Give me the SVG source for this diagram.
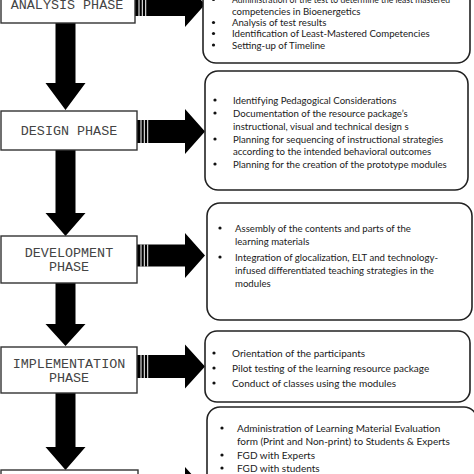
<svg xmlns="http://www.w3.org/2000/svg" width="474" height="474" viewBox="0 0 474 474">
<style>
.phase{fill:#fff;stroke:#333;stroke-width:1.4}
.ptxt{font-family:"Liberation Mono","Courier New",monospace;font-size:13.4px;fill:#444;text-anchor:middle}
.card{fill:#fff;stroke:#222;stroke-width:1.6}
.itxt{font-family:Lato,"Liberation Sans",sans-serif;font-size:9.65px;fill:#1a1a1a}
.big{font-size:10px}
.blk{fill:#000}
.gap{fill:#fff}
.dot{fill:#111}
</style>
<rect width="474" height="474" fill="#fff"/>
<g id="connectors">
  <polygon class="blk" points="55.5,23 75.5,23 75.5,83 85.5,83 65.5,110 45.5,83 55.5,83"/>
  <polygon class="blk" points="55.5,150 75.5,150 75.5,213 85.5,213 65.5,236 45.5,213 55.5,213"/>
  <polygon class="blk" points="55.5,283 75.5,283 75.5,324 85.5,324 65.5,346 45.5,324 55.5,324"/>
  <polygon class="blk" points="55.5,393 75.5,393 75.5,447 85.5,447 65.5,470 45.5,447 55.5,447"/>
  <g id="r-analysis">
    <polygon class="blk" points="135,-7 185,-7 185,-18 205,4.5 185,27 185,16 135,16"/>
    <rect class="gap" x="138.5" y="-7" width="1" height="23"/><rect class="gap" x="141.8" y="-7" width="1" height="23"/><rect class="gap" x="145.2" y="-7" width="1" height="23"/>
  </g>
  <g id="r-design">
    <polygon class="blk" points="137,120 185,120 185,109 205,131.5 185,154 185,143 137,143"/>
    <rect class="gap" x="140.5" y="120" width="1" height="23"/><rect class="gap" x="143.8" y="120" width="1" height="23"/><rect class="gap" x="147.2" y="120" width="1" height="23"/>
  </g>
  <g id="r-development">
    <polygon class="blk" points="137,244.5 185,244.5 185,233 205,255.5 185,278 185,266.5 137,266.5"/>
    <rect class="gap" x="140.5" y="244.5" width="1" height="22"/><rect class="gap" x="143.8" y="244.5" width="1" height="22"/><rect class="gap" x="147.2" y="244.5" width="1" height="22"/>
  </g>
  <g id="r-implementation">
    <polygon class="blk" points="137,355 185,355 185,344.5 205,366.5 185,388.5 185,378 137,378"/>
    <rect class="gap" x="140.5" y="355" width="1" height="23"/><rect class="gap" x="143.8" y="355" width="1" height="23"/><rect class="gap" x="147.2" y="355" width="1" height="23"/>
  </g>
  <g id="r-evaluation">
    <polygon class="blk" points="138,478 185,478 185,467 205,489 185,511 185,500 138,500"/>
  </g>
</g>
<g id="analysis-phase">
  <rect class="phase" x="1" y="-15" width="134" height="38"/>
  <text class="ptxt" x="67" y="8.5">ANALYSIS PHASE</text>
</g>
<g id="design-phase">
  <rect class="phase" x="1" y="111" width="136" height="39"/>
  <text class="ptxt" x="69" y="134.5">DESIGN PHASE</text>
</g>
<g id="development-phase">
  <rect class="phase" x="1" y="236" width="136" height="47"/>
  <text class="ptxt" x="69" y="256.5">DEVELOPMENT</text>
  <text class="ptxt" x="69" y="270.5">PHASE</text>
</g>
<g id="implementation-phase">
  <rect class="phase" x="1" y="347" width="136" height="46"/>
  <text class="ptxt" x="69" y="367.5">IMPLEMENTATION</text>
  <text class="ptxt" x="69" y="381.5">PHASE</text>
</g>
<g id="evaluation-phase">
  <rect class="phase" x="1" y="470" width="137" height="40"/>
</g>
<g id="analysis-tasks">
  <rect class="card" x="203" y="-40" width="267" height="103" rx="13"/>
  <circle class="dot" cx="213.5" cy="-0.5" r="1.6"/>
  <circle class="dot" cx="213.5" cy="22.5" r="1.6"/>
  <circle class="dot" cx="213.5" cy="33.5" r="1.6"/>
  <circle class="dot" cx="213.5" cy="45" r="1.6"/>
  <text class="itxt" x="232" y="3" textLength="218" lengthAdjust="spacingAndGlyphs">Administration of the test to determine the least mastered</text>
  <text class="itxt" x="232" y="14.5">competencies  in Bioenergetics</text>
  <text class="itxt" x="232" y="26">Analysis of test results</text>
  <text class="itxt" x="232" y="37">Identification of Least-Mastered Competencies</text>
  <text class="itxt" x="232" y="48.5">Setting-up of Timeline</text>
</g>
<g id="design-tasks">
  <rect class="card" x="205" y="71" width="263" height="119" rx="13"/>
  <circle class="dot" cx="215" cy="100" r="1.6"/>
  <circle class="dot" cx="215" cy="113" r="1.6"/>
  <circle class="dot" cx="215" cy="139" r="1.6"/>
  <circle class="dot" cx="215" cy="164" r="1.6"/>
  <text class="itxt" x="233" y="103.5">Identifying Pedagogical Considerations</text>
  <text class="itxt" x="233" y="116.5">Documentation of the resource package’s</text>
  <text class="itxt" x="233" y="130">instructional, visual and technical design s</text>
  <text class="itxt" x="233" y="142.5">Planning for sequencing of instructional strategies</text>
  <text class="itxt" x="233" y="154.5">according to the intended behavioral outcomes</text>
  <text class="itxt" x="233" y="167.5">Planning for the creation of the prototype modules</text>
</g>
<g id="development-tasks">
  <rect class="card" x="207" y="203" width="265" height="117" rx="13"/>
  <circle class="dot" cx="220" cy="228" r="1.6"/>
  <circle class="dot" cx="220" cy="257" r="1.6"/>
  <text class="itxt" x="235" y="231.5">Assembly of the contents and parts of the</text>
  <text class="itxt" x="235" y="245">learning materials</text>
  <text class="itxt" x="235" y="260.5">Integration of glocalization, ELT and technology-</text>
  <text class="itxt" x="235" y="273.5">infused differentiated teaching strategies in the</text>
  <text class="itxt" x="235" y="287">modules</text>
</g>
<g id="implementation-tasks">
  <rect class="card" x="205" y="331" width="265" height="71" rx="12"/>
  <circle class="dot" cx="214" cy="353" r="1.6"/>
  <circle class="dot" cx="214" cy="368" r="1.6"/>
  <circle class="dot" cx="214" cy="383" r="1.6"/>
  <text class="itxt big" x="232" y="356.5">Orientation of the participants</text>
  <text class="itxt big" x="232" y="371.5">Pilot testing of the learning resource package</text>
  <text class="itxt big" x="232" y="386.5">Conduct of classes using the modules</text>
</g>
<g id="evaluation-tasks">
  <rect class="card" x="207" y="407" width="270" height="90" rx="13"/>
  <circle class="dot" cx="222" cy="428" r="1.6"/>
  <circle class="dot" cx="222" cy="455" r="1.6"/>
  <circle class="dot" cx="222" cy="468" r="1.6"/>
  <text class="itxt big" x="237" y="431.5">Administration of Learning Material Evaluation</text>
  <text class="itxt big" x="237" y="444.5">form (Print and Non-print) to Students &amp; Experts</text>
  <text class="itxt big" x="237" y="458.5">FGD with Experts</text>
  <text class="itxt big" x="237" y="471.5">FGD with students</text>
</g>
</svg>
